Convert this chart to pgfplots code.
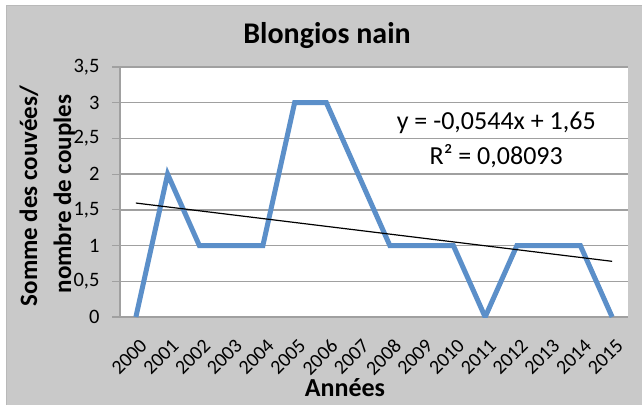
\documentclass[border=0pt]{standalone}
\usepackage{pgfplots}
\pgfplotsset{compat=1.18}
\usepackage{fontspec}
\setmainfont{Carlito}
\definecolor{bgc}{RGB}{201,201,201}
\definecolor{blu}{RGB}{91,143,201}
\definecolor{gridc}{RGB}{160,160,160}
\begin{document}
\begin{tikzpicture}
\useasboundingbox (0pt,0pt) rectangle (642pt,-405pt);
\fill[white] (0pt,0pt) rectangle (642pt,-405pt);
\fill[bgc] (6pt,-5pt) rectangle (642pt,-405pt);
\draw[gray!55, line width=1pt] (6pt,-405pt) -- (6pt,-5pt) -- (642pt,-5pt);
\node[anchor=base, font=\fontsize{30}{36}\selectfont\bfseries] at (327pt,-43pt) {Blongios nain};
\node[anchor=base, rotate=90, font=\fontsize{25}{30}\selectfont\bfseries] at (37pt,-196pt) {Somme des couvées/};
\node[anchor=base, rotate=90, font=\fontsize{25}{30}\selectfont\bfseries] at (71pt,-194pt) {nombre de couples};
\node[anchor=base, font=\fontsize{26}{30}\selectfont\bfseries] at (345pt,-396pt) {Années};
\begin{axis}[
  at={(120pt,-317pt)}, anchor=south west,
  width=508pt, height=250pt, scale only axis,
  xmin=-0.5, xmax=15.5, ymin=0, ymax=3.5,
  axis lines*=left,
  axis line style={gridc, line width=1.5pt},
  axis background/.style={fill=white},
  xtick={0,...,15},
  xticklabels={2000,2001,2002,2003,2004,2005,2006,2007,2008,2009,2010,2011,2012,2013,2014,2015},
  xtick style={draw=none},
  ytick={0,0.5,1,1.5,2,2.5,3,3.5},
  ytick style={gridc, line width=1.2pt},
  tick align=outside, major tick length=8pt,
  ymajorgrids, grid style={gridc, line width=1.5pt},
  /pgf/number format/assume math mode=true,
  /pgf/number format/use comma, /pgf/number format/fixed,
  yticklabel style={font=\fontsize{20.5}{20.5}\selectfont, anchor=east, xshift=-9pt},
  xticklabel style={font=\fontsize{20}{20}\selectfont, xshift=3pt, yshift=-8pt, rotate=45, anchor=north east},
]
\addplot[blu, line width=5pt, mark=none] coordinates {
(0,0) (1,2) (2,1) (3,1) (4,1) (5,3) (6,3) (7,2) (8,1) (9,1) (10,1) (11,0) (12,1) (13,1) (14,1) (15,0)};
\addplot[black, line width=1.2pt, mark=none] coordinates {(0,1.5956) (15,0.7796)};
\node[font=\fontsize{26}{30}\selectfont] at (axis cs:11.35,2.72) {y = -0,0544x + 1,65};
\node[font=\fontsize{26}{30}\selectfont] at (axis cs:11.35,2.25) {R² = 0,08093};
\end{axis}
\end{tikzpicture}
\end{document}
